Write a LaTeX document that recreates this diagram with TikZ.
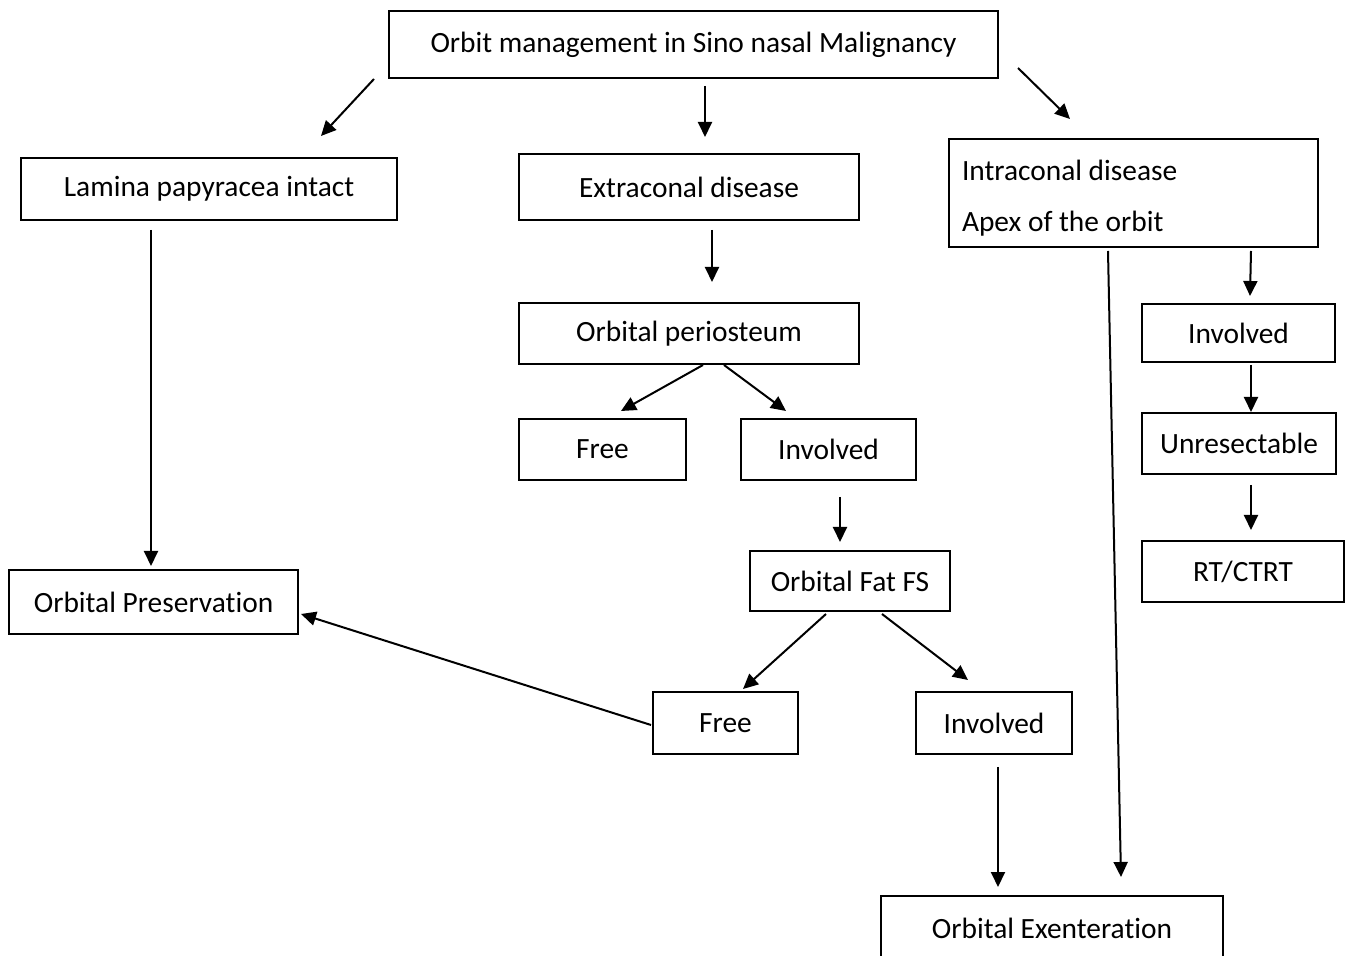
\documentclass[tikz,border=0pt]{standalone}
\usepackage{fontspec}
\setmainfont[Ligatures=NoCommon]{Carlito}
\usetikzlibrary{arrows.meta,positioning,calc}
\tikzset{
  box/.style={draw,line width=1pt,inner sep=0pt,align=center,font=\fontsize{14.7}{17}\selectfont},
  arr/.style={-{Triangle[length=7.5pt,width=7pt]},line width=1pt}
}

\begin{document}
\begin{tikzpicture}[x=0.5pt,y=-0.5pt]
        \useasboundingbox (0,0) rectangle (1345,956);
        % top
        \node[box,minimum width=304.5pt,minimum height=33.5pt] (top) at (693.5,44.5) {Orbit management in Sino nasal Malignancy};
        % left branch
        \node[box,minimum width=188pt,minimum height=31pt] (lamina) at (209,189) {Lamina papyracea intact};
        \node[box,minimum width=144.5pt,minimum height=32pt] (pres) at (153.5,602) {Orbital Preservation};
        % middle branch
        \node[box,minimum width=170pt,minimum height=33pt] (extra) at (689,187) {Extraconal disease};
        \node[box,minimum width=170pt,minimum height=30.5pt] (peri) at (689,333.5) {Orbital periosteum};
        \node[box,minimum width=83.5pt,minimum height=30.5pt] (free1) at (602.5,449.5) {Free};
        \node[box,minimum width=87.5pt,minimum height=30.5pt] (inv1) at (828.5,449.5) {Involved};
        \node[box,minimum width=100pt,minimum height=30pt] (fat) at (850,581) {Orbital Fat FS};
        \node[box,minimum width=72.5pt,minimum height=31pt] (free2) at (725.5,723) {Free};
        \node[box,minimum width=78pt,minimum height=31pt] (inv2) at (994,723) {Involved};
        \node[box,minimum width=171pt,minimum height=32pt] (exen) at (1052,928) {Orbital Exenteration};
        % right branch
        \node[box,align=flush left,text width=171.5pt,inner xsep=6.5pt,minimum height=54pt,
              font=\fontsize{14.7}{25.5}\selectfont] (intra) at (1133.5,193) {\rule{0pt}{15pt}Intraconal disease\\Apex of the orbit};
        \node[box,minimum width=96.5pt,minimum height=29pt] (invR) at (1238.5,333) {Involved};
        \node[box,minimum width=97pt,minimum height=30.5pt] (unres) at (1239,443.5) {Unresectable};
        \node[box,minimum width=101pt,minimum height=30.5pt] (rt) at (1243,571.5) {RT/CTRT};

        \draw[arr] ($(top.south west)+(-14,0)$) -- ($(lamina.north)+(112,-21)$);
        \draw[arr] ($(top.south)+(11.5,7)$) -- ($(extra.north)+(16,-16)$);
        \draw[arr] ($(top.south east)+(19,-11)$) -- ($(intra.north)+(-63.5,-19)$);
        \draw[arr] ($(lamina.south)+(-58,9)$) -- ($(pres.north)+(-2.5,-3)$);
        \draw[arr] ($(extra.south)+(23,9)$) -- ($(peri.north)+(23,-20)$);
        \draw[arr] ($(peri.south)+(14,0)$) -- ($(free1.north)+(18.5,-7)$);
        \draw[arr] ($(peri.south)+(35,0)$) -- ($(inv1.north)+(-42.5,-7)$);
        \draw[arr] ($(inv1.south)+(11.5,16)$) -- ($(fat.north)+(-10,-8)$);
        \draw[arr] ($(fat.south)+(-24,2)$) -- ($(free2.north)+(17.5,-2)$);
        \draw[arr] ($(fat.south)+(32,2)$) -- ($(inv2.north)+(-26,-11)$);
        \draw[arr] ($(free2.west)+(-1,2)$) -- ($(pres.east)+(2,12)$);
        \draw[arr] ($(inv2.south)+(4,12)$) -- ($(exen.north)+(-54,-8)$);
        \draw[arr] ($(intra.south)+(-25.5,3)$) -- ($(exen.north)+(69,-18)$);
        \draw[arr] ($(intra.south east)+(-68,3)$) -- ($(invR.north)+(11.5,-7)$);
        \draw[arr] ($(invR.south)+(12.5,2)$) -- ($(unres.north)+(12,0)$);
        \draw[arr] ($(unres.south)+(12,10)$) -- ($(rt.north)+(8,-10)$);
\end{tikzpicture}
\end{document}
